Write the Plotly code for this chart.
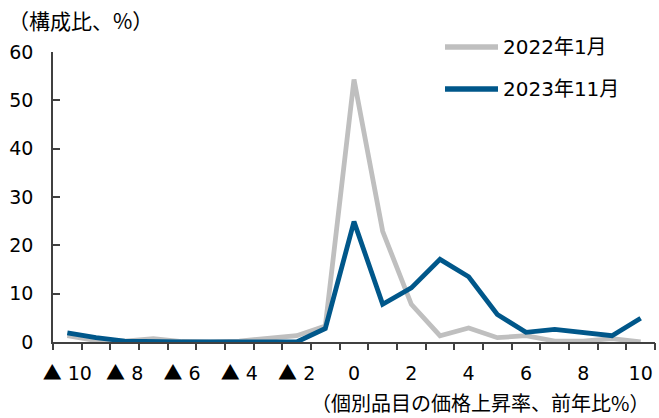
import plotly.graph_objects as go

rates = list(range(-10, 11))
tick_vals = [-10, -8, -6, -4, -2, 0, 2, 4, 6, 8, 10]
tick_labels = ["▲ 10", "▲ 8", "▲ 6", "▲ 4", "▲ 2", "0", "2", "4", "6", "8", "10"]
y_ticks = [0, 10, 20, 30, 40, 50, 60]

share_2022_01 = [1.3, 0.3, 0.2, 0.7, 0.1, 0.0, 0.2, 0.7, 1.3, 3.3, 54.3,
                 22.9, 7.8, 1.3, 2.9, 0.9, 1.3, 0.2, 0.2, 0.7, 0.0]
share_2023_11 = [1.9, 0.9, 0.2, 0.0, 0.0, 0.0, 0.0, 0.0, 0.0, 2.8, 24.9,
                 7.8, 11.2, 17.1, 13.5, 5.7, 2.0, 2.6, 1.9, 1.3, 4.9]

series_names = ["2022年1月", "2023年11月"]
colors = ["#bfbfbf", "#00578a"]

FONT = "DejaVu Sans, Noto Sans CJK JP, sans-serif"
CJK = "Noto Sans CJK JP, DejaVu Sans, sans-serif"


def fmt_tick(t):
    if t.startswith("▲"):
        return ("<span style=\"font-family:'Noto Sans CJK JP'\">▲</span>"
                + "\u00a0" + t[1:].strip())
    return t


tick_text = [fmt_tick(t) for t in tick_labels]

fig = go.Figure()
for name, vals, col in zip(series_names, [share_2022_01, share_2023_11], colors):
    fig.add_trace(go.Scatter(x=rates, y=vals, mode="lines", name=name,
                             line=dict(color=col, width=4.8), showlegend=False,
                             xaxis="x", yaxis="y"))

fig.update_layout(
    width=659, height=418,
    margin=dict(l=53, r=4, t=52, b=76),
    paper_bgcolor="white", plot_bgcolor="white",
    font=dict(family=FONT, size=19, color="#000000"),
    xaxis=dict(range=[-10.5, 10.5], tickvals=tick_vals, ticktext=tick_text,
               ticks="", showline=True, linecolor="#404040", linewidth=1.5,
               showgrid=False, zeroline=False, ticklabelstandoff=13,
               tickfont=dict(size=19)),
    xaxis2=dict(range=[-10.5, 10.5], overlaying="x", anchor="y", side="bottom",
                tickvals=[v + 0.5 for v in range(-11, 11)], showticklabels=False,
                ticks="outside", ticklen=7, tickwidth=1.5, tickcolor="#404040",
                showline=False, showgrid=False, zeroline=False),
    yaxis=dict(range=[0, 60], tickvals=y_ticks, ticks="inside", ticklen=7,
               tickwidth=1.5, tickcolor="#404040", showline=True,
               linecolor="#404040", linewidth=1.5, showgrid=False,
               zeroline=False, ticklabelstandoff=14, tickfont=dict(size=19)),
)
fig.add_trace(go.Scatter(x=[None], y=[None], xaxis="x2", yaxis="y", showlegend=False,
                         hoverinfo="skip"))

fig.add_annotation(text="（構成比、%）", xref="paper", yref="paper", x=-47/602, y=1 + 32/290,
                   xanchor="left", yanchor="middle", showarrow=False,
                   font=dict(size=21, family=CJK))
fig.add_annotation(text="（個別品目の価格上昇率、前年比%）", xref="paper", yref="paper",
                   x=1 - 5/602, y=-60/290, xanchor="right", yanchor="middle", showarrow=False,
                   font=dict(size=20, family=CJK), borderpad=0)

leg_y = [1 - (-5) / 290, 1 - 37 / 290]
for name, col, ly in zip(series_names, colors, leg_y):
    fig.add_shape(type="line", xref="paper", yref="paper",
                  x0=(445 - 53) / 602, x1=(498 - 53) / 602, y0=ly, y1=ly,
                  line=dict(color=col, width=5.5))
    fig.add_annotation(text=name, xref="paper", yref="paper", x=(501 - 53) / 602, y=ly,
                       xanchor="left", yanchor="middle", showarrow=False,
                       font=dict(size=20, family=FONT))

fig.write_html("out.html")
